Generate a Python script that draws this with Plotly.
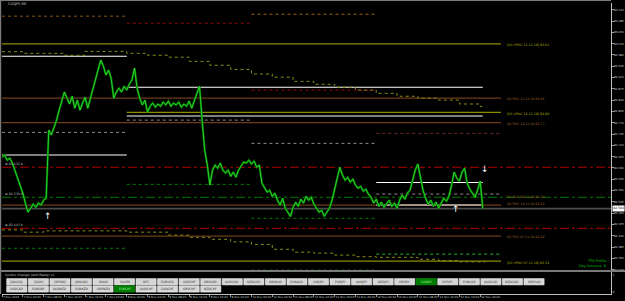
import plotly.graph_objects as go

# ---------------- data ----------------
symbol = "CADJPY,M5"
bar_step = 6  # M5 bars between samples
close = [82.663, 82.670, 82.654, 82.660, 82.645, 82.623, 82.601, 82.573, 82.552, 82.521, 82.493, 82.505,
         82.518, 82.508, 82.521, 82.515, 82.530, 82.536,
         82.747, 82.732, 82.753, 82.778, 82.809, 82.840, 82.865, 82.846, 82.828, 82.852, 82.815, 82.840,
         82.809, 82.831, 82.849, 82.815, 82.846, 82.877, 82.902, 82.939, 82.964, 82.945, 82.918, 82.933,
         82.908, 82.846, 82.865, 82.877, 82.865, 82.883, 82.871, 82.890, 82.902, 82.939, 82.877, 82.846,
         82.825, 82.840, 82.803, 82.821, 82.831, 82.818, 82.828, 82.821, 82.834, 82.825, 82.837, 82.821,
         82.831, 82.825, 82.834, 82.818, 82.828, 82.821, 82.837, 82.815, 82.840, 82.865, 82.883,
         82.778, 82.685, 82.639, 82.577, 82.623, 82.639, 82.629, 82.645, 82.623, 82.614, 82.623, 82.604,
         82.617, 82.601, 82.623, 82.635, 82.648, 82.645, 82.654, 82.642, 82.651, 82.632, 82.639,
         82.583, 82.570, 82.555, 82.561, 82.542, 82.552, 82.530, 82.515, 82.536, 82.505, 82.493, 82.480,
         82.508, 82.524, 82.511, 82.533, 82.521, 82.542, 82.530, 82.539, 82.518, 82.505, 82.493, 82.499,
         82.480, 82.493, 82.505, 82.530, 82.567, 82.604, 82.632, 82.608, 82.592, 82.601, 82.586, 82.595,
         82.577, 82.567, 82.573, 82.558, 82.564, 82.549, 82.539, 82.521, 82.533, 82.511, 82.524, 82.508,
         82.518, 82.530, 82.511, 82.521, 82.505, 82.530, 82.546, 82.533, 82.552, 82.561, 82.592, 82.623,
         82.642, 82.598, 82.561, 82.536, 82.518, 82.530, 82.511, 82.524, 82.505, 82.521, 82.536, 82.527,
         82.542, 82.577, 82.617, 82.598, 82.589, 82.617, 82.629, 82.583, 82.564, 82.552, 82.539, 82.561,
         82.589, 82.504]

time_labels = ["7 Nov 2019", "7 Nov 04:20", "7 Nov 08:20", "7 Nov 12:20", "7 Nov 16:20", "7 Nov 20:20",
               "8 Nov 00:20", "8 Nov 04:20", "8 Nov 08:20", "8 Nov 12:20", "8 Nov 16:20", "8 Nov 20:20",
               "11 Nov 00:20", "11 Nov 04:20", "11 Nov 08:20", "11 Nov 12:20", "11 Nov 16:20", "11 Nov 20:20",
               "12 Nov 00:20", "12 Nov 04:20", "12 Nov 08:20", "12 Nov 12:20", "12 Nov 16:20", "12 Nov 20:20"]
bars_per_label = 48

price_ticks = [83.120, 83.085, 83.050, 83.015, 82.980, 82.945, 82.910, 82.875, 82.840, 82.805, 82.770,
               82.735, 82.700, 82.665, 82.630, 82.595, 82.560, 82.525, 82.490, 82.455, 82.420, 82.385,
               82.350, 82.315]

upper_band = [82.990, 82.985, 82.985, 82.979, 82.991, 82.991, 82.985, 82.979, 82.973, 82.960, 82.948, 82.935,
              82.921, 82.911, 82.898, 82.889, 82.880, 82.871, 82.861, 82.852, 82.846, 82.840, 82.828, 82.820]
lower_band = [82.438, 82.431, 82.435, 82.435, 82.435, 82.435, 82.431, 82.431, 82.422, 82.415, 82.409, 82.401,
              82.393, 82.378, 82.369, 82.366, 82.360, 82.355, 82.353, 82.353, 82.347, 82.343, 82.339, 82.339]

day_bars = [0, 288, 576, 864, 1152]
view_end_bar = 1406

# level lines: price, from day, to day ('L' = last bar, 'R' = right edge)
level_price = [83.106, 83.100, 83.078, 83.014, 82.976, 82.880, 82.871, 82.846, 82.802, 82.791, 82.778,
               82.770, 82.740, 82.737, 82.706, 82.670, 82.632, 82.585, 82.579, 82.549, 82.539, 82.515,
               82.515, 82.474, 82.443, 82.419, 82.381, 82.363, 82.341, 82.313]
level_from = [2, 0, 1, 0, 0, 1, 2, 0, 1, 1, 1, 0, 0, 3, 2, 0, 0, 3, 1, 3, 0, 0, 3, 2, 0, 0, 0, 3, 0, 2]
level_to = [3, 1, 2, 4, 1, 'L', 3, 4, 4, 'L', 2, 4, 1, 4, 3, 1, 'R', 'L', 2, 4, 'R', 4, 'L', 3, 'R', 4, 1, 4, 4, 3]
level_kind = ['orange_dot', 'brown_dot', 'red_dot', 'olive', 'white', 'white', 'red_dot', 'brown', 'olive',
              'white', 'gray_dot', 'brown', 'gray_dot', 'darkred_dot', 'gray_dot', 'white', 'red_dd', 'white',
              'green_dot', 'gray_dot', 'green_dd', 'brown', 'white', 'green_dot', 'red_dd', 'brown',
              'green_dot', 'lime_dot', 'olive', 'lime_dot']

poc_label_text = ["[D1 VPOC 11.11.19] 83.01", "D1 POC 11.11.19 82.85", "[D1 VPOC 12.11.19] 82.80",
                  "D1 POC 12.11.19 82.77", "D1 POC 08.11.19 82.54", "D1 POC 12.11.19 82.52",
                  "D1 POC 07.11.19 82.42", "[D1 VPOC 07.11.19] 82.34"]
poc_label_price = [83.010, 82.842, 82.798, 82.767, 82.540, 82.518, 82.416, 82.337]
poc_label_kind = ['olive', 'brown', 'olive', 'brown', 'brown', 'brown', 'brown', 'olive']

left_label_text = ["\u2295 82.632 b", "\u2295 82.539 b", "\u2295 82.443 b"]
left_label_price = [82.643, 82.549, 82.452]

arrow_bar = [106, 1048, 1115]
arrow_price = [82.481, 82.503, 82.627]
arrow_dir = ['up', 'up', 'down']

buttons_row1 = ["[DAX30]", "[DJ30]", "[SP500]", "[NQ100]", "GOLD", "SILVER", "WTI", "EURUSD", "USDCHF",
                "GBPUSD", "AUDUSD", "NZDUSD", "GBPAUD", "EURAUD", "USDJPY", "EURJPY", "AUDJPY", "NZDJPY",
                "GBPJPY", "CADJPY", "CHFJPY", "EURCAD", "AUDCAD", "NZDCAD", "GBPCAD"]
buttons_row2 = ["USDCAD", "EURGBP", "AUDNZD", "EURNZD", "GBPNZD", "EURCHF", "AUDCHF", "CADCHF", "GBPCHF",
                "NZDCHF"]
active_buttons = ["CADJPY", "EURCHF"]

# ---------------- styles ----------------
W, H = 625, 301
X0, X1 = 2, 611          # main chart horizontal pixel extent
Y_TOP, Y_SEP, Y_SUB_BOT = 3, 271, 294
P_TOP, P_BOT = 83.1408, 82.3107

styles = {
    'white': dict(color='#ffffff', width=1.1),
    'olive': dict(color='#8c8c00', width=1.3),
    'brown': dict(color='#6e3c18', width=1.3),
    'red_dd': dict(color='#b00000', width=1, dash='dashdot'),
    'green_dd': dict(color='#007800', width=1, dash='dashdot'),
    'orange_dot': dict(color='#a8620e', width=1, dash='dot'),
    'brown_dot': dict(color='#8a5218', width=1, dash='dot'),
    'red_dot': dict(color='#8c0c0c', width=1, dash='dot'),
    'darkred_dot': dict(color='#6a2a22', width=1, dash='dot'),
    'gray_dot': dict(color='#8a8a8a', width=1, dash='dot'),
    'green_dot': dict(color='#007a00', width=1, dash='dot'),
    'lime_dot': dict(color='#28b428', width=1, dash='dot'),
}
label_colors = {'olive': '#b4b400', 'brown': '#a0602a'}

fig = go.Figure()

last_bar = (len(close) - 1) * bar_step
bars = list(range(0, len(close) * bar_step, bar_step))


def resolve(v):
    if v == 'L':
        return last_bar
    if v == 'R':
        return view_end_bar
    return day_bars[v]


# level lines
for p, f, t, k in zip(level_price, level_from, level_to, level_kind):
    fig.add_trace(go.Scatter(x=[resolve(f), resolve(t)], y=[p, p], mode='lines', line=styles[k],
                             hoverinfo='skip', xaxis='x', yaxis='y'))

# step bands
band_x = [i * bars_per_label for i in range(len(upper_band))] + [last_bar + 6]
fig.add_trace(go.Scatter(x=band_x, y=upper_band + [upper_band[-1]], mode='lines', line_shape='hv',
                         line=dict(color='#8a8a1a', width=1, dash='dot'), hoverinfo='skip'))
fig.add_trace(go.Scatter(x=band_x, y=lower_band + [lower_band[-1]], mode='lines', line_shape='hv',
                         line=dict(color='#8a8a1a', width=1, dash='dot'), hoverinfo='skip'))

# bid line
fig.add_trace(go.Scatter(x=[0, view_end_bar], y=[close[-1], close[-1]], mode='lines',
                         line=dict(color='#4a4a4a', width=1.6), hoverinfo='skip'))

# price
fig.add_trace(go.Scatter(x=bars, y=close, mode='lines', line=dict(color='#006a00', width=2.2),
                         hoverinfo='skip'))
fig.add_trace(go.Scatter(x=bars, y=close, mode='lines', line=dict(color='#30f030', width=0.8),
                         hoverinfo='skip'))

annotations = []
FONT = "DejaVu Sans"
# POC labels
label_bar = day_bars[-1] + 10
for txt, p, k in zip(poc_label_text, poc_label_price, poc_label_kind):
    annotations.append(dict(x=label_bar, y=p, xref='x', yref='y', text=txt, showarrow=False,
                            xanchor='left', yanchor='middle',
                            font=dict(size=3.2, color=label_colors[k], family=FONT)))
for txt, p in zip(left_label_text, left_label_price):
    annotations.append(dict(x=2, y=p, xref='x', yref='y', text=txt, showarrow=False,
                            xanchor='left', yanchor='middle',
                            font=dict(size=3.2, color='#b0b0b0', family=FONT)))
for b, p, d in zip(arrow_bar, arrow_price, arrow_dir):
    annotations.append(dict(x=b, y=p, xref='x', yref='y', text='\u2191' if d == 'up' else '\u2193',
                            showarrow=False, xanchor='center', yanchor='middle',
                            font=dict(size=9, color='#ffffff', family="DejaVu Sans")))

# TPO text
annotations.append(dict(x=(X1 - 3) / W, y=82.341, xref='paper', yref='y', text='TPO Profile',
                        showarrow=False, xanchor='right', yanchor='middle',
                        font=dict(size=3.4, color='#00c000', family=FONT)))
annotations.append(dict(x=(X1 - 3) / W, y=82.325, xref='paper', yref='y', text='Day Sessions: 6',
                        showarrow=False, xanchor='right', yanchor='middle',
                        font=dict(size=3.4, color='#00c000', family=FONT)))

# title
annotations.append(dict(x=6 / W, y=1 - 3.5 / H, xref='paper', yref='paper', text=symbol, showarrow=False,
                        xanchor='left', yanchor='middle', font=dict(size=3.4, color='#c8c8c8', family=FONT)))
# subwindow title
annotations.append(dict(x=3 / W, y=1 - 275 / H, xref='paper', yref='paper',
                        text='Symbol Changer (with Ready) v1', showarrow=False,
                        xanchor='left', yanchor='middle', font=dict(size=3, color='#c0c0c0', family=FONT)))
# current price box
annotations.append(dict(x=(X1 + 1.0) / W, y=close[-1], xref='paper', yref='y', text=f"{close[-1]:.3f}",
                        showarrow=False, xanchor='left', yanchor='middle', bgcolor='#ffffff',
                        borderpad=0.3, font=dict(size=3, color='#000000', family=FONT)))

shapes = []
# frame lines
shapes.append(dict(type='line', xref='paper', yref='paper', x0=0, x1=X1 / W, y0=1 - 0.5 / H, y1=1 - 0.5 / H,
                   line=dict(color='#7a7a7a', width=1.2)))
shapes.append(dict(type='line', xref='paper', yref='paper', x0=0.6 / W, x1=0.6 / W, y0=1 - Y_SUB_BOT / H, y1=1,
                   line=dict(color='#7a7a7a', width=1.2)))
shapes.append(dict(type='line', xref='paper', yref='paper', x0=0, x1=1, y0=1 - Y_SEP / H, y1=1 - Y_SEP / H,
                   line=dict(color='#7a7a7a', width=2)))

# buttons
BW, BSTEP, BX0 = 20.2, 21.55, 6.7
rows = [(buttons_row1, 278.6, 284.9), (buttons_row2, 285.8, 292.1)]
for names, ytop, ybot in rows:
    for i, name in enumerate(names):
        x0 = BX0 + i * BSTEP
        active = name in active_buttons
        shapes.append(dict(type='rect', xref='paper', yref='paper', x0=x0 / W, x1=(x0 + BW) / W,
                           y0=1 - ybot / H, y1=1 - ytop / H,
                           fillcolor='#007a00' if active else '#d6d6d6',
                           line=dict(color='#f4f4f4' if not active else '#00a000', width=0.6)))
        annotations.append(dict(x=(x0 + BW / 2) / W, y=1 - (ytop + ybot) / 2 / H, xref='paper', yref='paper',
                                text=name, showarrow=False, xanchor='center', yanchor='middle',
                                font=dict(size=3, color='#303030' if not active else '#a0ffa0', family=FONT)))

fig.update_layout(
    width=W, height=H, margin=dict(l=0, r=0, t=0, b=0, pad=0), autosize=False,
    paper_bgcolor='#000000', plot_bgcolor='#000000', showlegend=False,
    shapes=shapes, annotations=annotations,
    xaxis=dict(domain=[X0 / W, X1 / W], range=[0, view_end_bar], showgrid=False, zeroline=False,
               showticklabels=False, ticks='', anchor='y', showline=False, fixedrange=True),
    yaxis=dict(domain=[1 - Y_SEP / H, 1 - Y_TOP / H], range=[P_BOT, P_TOP], side='right', showgrid=False,
               zeroline=False, tickvals=price_ticks, ticktext=[f"{v:.3f}" for v in price_ticks],
               ticks='outside', ticklen=1.5, tickcolor='#c0c0c0', tickwidth=0.8,
               tickfont=dict(size=2.8, color='#c8c8c8', family=FONT), showline=True,
               linecolor='#c0c0c0', linewidth=1, anchor='x', automargin=False, ticklabelstandoff=0),
    xaxis2=dict(domain=[X0 / W, X1 / W], matches='x', anchor='y2', showgrid=False, zeroline=False,
                tickvals=[i * bars_per_label for i in range(len(time_labels))], ticktext=time_labels,
                ticks='outside', ticklen=2, tickcolor='#c0c0c0', tickwidth=0.8, tickangle=0,
                ticklabelposition='outside right', ticklabelstandoff=0,
                tickfont=dict(size=2.8, color='#c8c8c8', family=FONT), showline=True, linecolor='#c0c0c0',
                linewidth=1, automargin=False),
    yaxis2=dict(domain=[1 - Y_SUB_BOT / H, 1 - (Y_SEP + 1) / H], range=[0, 1], side='right', showgrid=False,
                zeroline=False, tickvals=[0.08, 0.88], ticktext=['0', '1'], ticks='',
                tickfont=dict(size=3, color='#c8c8c8', family=FONT), showline=True, linecolor='#c0c0c0',
                linewidth=1, anchor='x2', automargin=False),
)

# dummy trace on subwindow axes so they render
fig.add_trace(go.Scatter(x=[0], y=[-1], xaxis='x2', yaxis='y2', mode='markers', marker=dict(opacity=0),
                         hoverinfo='skip'))

fig.write_html("out.html", config={'displayModeBar': False, 'staticPlot': True})
